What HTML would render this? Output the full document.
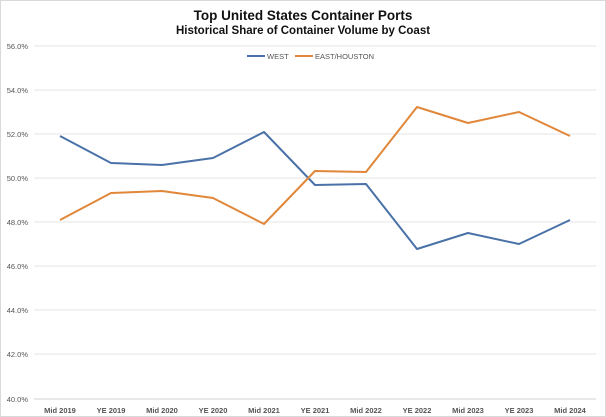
<!DOCTYPE html>
<html><head><meta charset="utf-8"><style>
html,body{margin:0;padding:0;background:#fff;}
body{width:606px;height:417px;overflow:hidden;}
svg{display:block;font-family:"Liberation Sans",sans-serif;}
</style></head><body>
<svg width="606" height="417" viewBox="0 0 606 417">
<rect x="0.5" y="0.5" width="605" height="416" fill="#fff" stroke="#d9d9d9"/>
<text x="303" y="20" text-anchor="middle" font-size="13.5" font-weight="bold" fill="#111">Top United States Container Ports</text>
<text x="303" y="34" text-anchor="middle" font-size="11.5" font-weight="bold" fill="#111">Historical Share of Container Volume by Coast</text>
<g stroke="#e6e6e6" stroke-width="1">
<line x1="34" x2="596" y1="46" y2="46"/><line x1="34" x2="596" y1="90" y2="90"/>
<line x1="34" x2="596" y1="134" y2="134"/><line x1="34" x2="596" y1="178" y2="178"/>
<line x1="34" x2="596" y1="222" y2="222"/><line x1="34" x2="596" y1="266" y2="266"/>
<line x1="34" x2="596" y1="310" y2="310"/><line x1="34" x2="596" y1="354" y2="354"/>
<line x1="34" x2="596" y1="399" y2="399" stroke="#d0d0d0"/>
</g>
<g font-size="7.5" fill="#555" text-anchor="end">
<text x="28" y="49">56.0%</text><text x="28" y="93">54.0%</text><text x="28" y="137">52.0%</text>
<text x="28" y="181">50.0%</text><text x="28" y="225">48.0%</text><text x="28" y="269">46.0%</text>
<text x="28" y="313">44.0%</text><text x="28" y="357">42.0%</text><text x="28" y="402">40.0%</text>
</g>
<g font-size="7.5" fill="#555" text-anchor="middle" font-weight="bold">
<text x="60" y="413">Mid 2019</text><text x="111" y="413">YE 2019</text><text x="162" y="413">Mid 2020</text>
<text x="213" y="413">YE 2020</text><text x="264" y="413">Mid 2021</text><text x="315" y="413">YE 2021</text>
<text x="366" y="413">Mid 2022</text><text x="417" y="413">YE 2022</text><text x="468" y="413">Mid 2023</text>
<text x="519" y="413">YE 2023</text><text x="570" y="413">Mid 2024</text>
</g>
<line x1="247" x2="265" y1="56" y2="56" stroke="#4a72a8" stroke-width="2"/>
<text x="267" y="59" font-size="7.5" fill="#555">WEST</text>
<line x1="295" x2="313" y1="56" y2="56" stroke="#e0873a" stroke-width="2"/>
<text x="315" y="59" font-size="7.5" fill="#555">EAST/HOUSTON</text>
<polyline fill="none" stroke="#4a72a8" stroke-width="2" stroke-linejoin="round"
points="60,136 111,163 162,165 213,158 264,132 315,185 366,184 417,249 468,233 519,244 570,220"/>
<polyline fill="none" stroke="#e0873a" stroke-width="2" stroke-linejoin="round"
points="60,220 111,193 162,191 213,198 264,224 315,171 366,172 417,107 468,123 519,112 570,136"/>
</svg>
</body></html>
